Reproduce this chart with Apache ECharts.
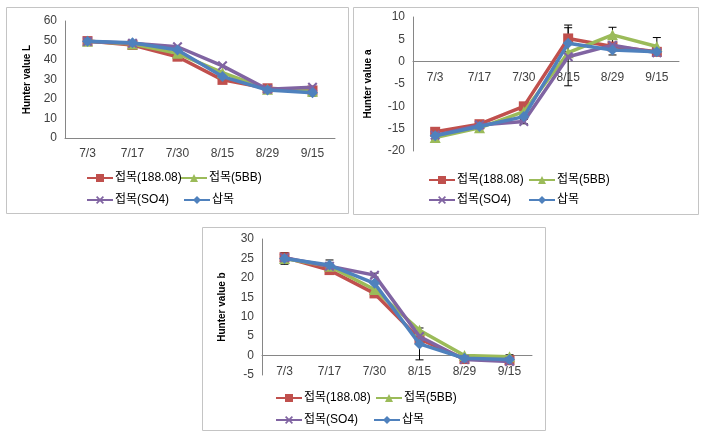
<!DOCTYPE html>
<html><head><meta charset="utf-8">
<script src="https://cdn.jsdelivr.net/npm/echarts@6/dist/echarts.min.js"></script>
<style>html,body{margin:0;padding:0;background:#fff}#c{width:706px;height:441px}</style>
</head><body><div id="c"></div>
<script>
const categories = ['7/3','7/17','7/30','8/15','8/29','9/15'];
const seriesNames = ['접목(188.08)','접목(5BB)','접목(SO4)','삽목'];

// Hunter value L
const L_188 = [49.7, 47.7, 41.7, 29.8, 25.5, 24.4];
const L_5BB = [49.6, 48.2, 43.4, 33.5, 25.0, 24.0];
const L_SO4 = [49.5, 48.6, 46.8, 37.0, 25.0, 26.0];
const L_cut = [49.6, 48.8, 45.1, 31.5, 24.6, 23.2];
const L_err_cut = [null, null, null, null, null, 1.7];

// Hunter value a
const a_188 = [-15.7, -14.0, -10.0, 5.2, 3.4, 2.2];
const a_5BB = [-17.0, -14.8, -11.2, 2.0, 6.0, 3.4];
const a_SO4 = [-16.5, -14.2, -13.4, 1.1, 3.7, 2.0];
const a_cut = [-16.6, -14.5, -12.3, 4.1, 2.6, 2.2];
const a_err_188 = [null, null, null, 3.0, null, null];
const a_err_5BB = [null, null, null, null, 1.7, 2.0];
const a_err_SO4 = [null, null, 0.5, 6.5, null, null];
const a_err_cut = [null, null, null, null, 1.1, null];

// Hunter value b
const b_188 = [25.3, 22.0, 16.0, 4.3, -0.9, -1.2];
const b_5BB = [25.0, 23.0, 17.0, 6.5, 0.0, -0.3];
const b_SO4 = [25.2, 23.0, 20.7, 4.9, -1.0, -1.5];
const b_cut = [25.0, 23.3, 18.6, 3.0, -0.7, -1.0];
const b_err_cut = [1.5, 1.3, null, 4.1, null, 1.2];
const b_err_SO4 = [null, null, 0.5, null, null, null];

const yTitles = ['Hunter value L', 'Hunter value a', 'Hunter value b'];
const yMin = [0, -20, -5], yMax = [60, 10, 30], yInt = [10, 5, 5];

const colors = ['#C0504D', '#9BBB59', '#8064A2', '#4F81BD'];
const xSym = 'path://M0,1.5 L1.5,0 L5,3.5 L8.5,0 L10,1.5 L6.5,5 L10,8.5 L8.5,10 L5,6.5 L1.5,10 L0,8.5 L3.5,5 Z';
const symbols = ['rect', 'triangle', xSym, 'diamond'];
const symSizes = [10, 11, 10, 11];

const panels = [
  {data: [L_188, L_5BB, L_SO4, L_cut], errs: [null, null, null, L_err_cut],
   grid: {left: 65, top: 21, width: 270, height: 117}, nameX: 32,
   box: [6, 7, 342, 206], leg: {x1: 86, x2: 180, x3: 86, x4: 183, y1: 180, y2: 202}},
  {data: [a_188, a_5BB, a_SO4, a_cut], errs: [a_err_188, a_err_5BB, a_err_SO4, a_err_cut],
   grid: {left: 413, top: 17, width: 266, height: 134}, nameX: 373,
   box: [353, 7, 345, 207], leg: {x1: 428, x2: 528, x3: 428, x4: 528, y1: 182, y2: 202}},
  {data: [b_188, b_5BB, b_SO4, b_cut], errs: [null, null, b_err_SO4, b_err_cut],
   grid: {left: 262, top: 239, width: 270, height: 136}, nameX: 227,
   box: [202, 227, 343, 203], leg: {x1: 275, x2: 375, x3: 275, x4: 373, y1: 400, y2: 422}}
];

const grids = [], xAxes = [], yAxes = [], series = [], legends = [], graphics = [];
const lblFont = 'Liberation Sans, Arial, sans-serif';
const legFont = 'Liberation Sans, Noto Sans CJK KR, sans-serif';

panels.forEach((p, gi) => {
  grids.push(Object.assign({containLabel: false}, p.grid));
  // x axis sits on the zero line of the value axis
  const zeroOffset = -p.grid.height * (0 - yMin[gi]) / (yMax[gi] - yMin[gi]);
  xAxes.push({
    type: 'category', gridIndex: gi, data: categories, position: 'bottom', offset: zeroOffset,
    axisLine: {onZero: false, lineStyle: {color: '#868686', width: 1}},
    axisTick: {show: false},
    axisLabel: {color: '#404040', fontSize: 12, fontFamily: lblFont, margin: 10},
    splitLine: {show: false}
  });
  yAxes.push({
    type: 'value', gridIndex: gi, min: yMin[gi], max: yMax[gi], interval: yInt[gi],
    axisLine: {show: true, onZero: false, lineStyle: {color: '#868686', width: 1}},
    axisTick: {show: false},
    splitLine: {show: false},
    axisLabel: {color: '#404040', fontSize: 12, fontFamily: lblFont, margin: 8},
    name: yTitles[gi], nameLocation: 'middle', nameRotate: 90,
    nameGap: p.grid.left - p.nameX,
    nameTextStyle: {color: '#000', fontSize: 10, fontWeight: 'bold', fontFamily: lblFont}
  });
  p.errs.forEach((errArr, si) => {
    if (!errArr) return;
    const vals = p.data[si];
    const d = [];
    errArr.forEach((e, i) => { if (e != null) d.push([i, vals[i], e]); });
    series.push({
      type: 'custom', xAxisIndex: gi, yAxisIndex: gi, z: 1, silent: true,
      data: d, encode: {x: 0, y: 1},
      renderItem: function (params, api) {
        const x = api.value(0), v = api.value(1), e = api.value(2);
        const top = api.coord([x, v + e]);
        const bot = api.coord([x, v - e]);
        const hw = 4;
        const st = {stroke: '#000', lineWidth: 1};
        return {type: 'group', children: [
          {type: 'line', shape: {x1: top[0], y1: top[1], x2: bot[0], y2: bot[1]}, style: st},
          {type: 'line', shape: {x1: top[0] - hw, y1: top[1], x2: top[0] + hw, y2: top[1]}, style: st},
          {type: 'line', shape: {x1: bot[0] - hw, y1: bot[1], x2: bot[0] + hw, y2: bot[1]}, style: st}
        ]};
      }
    });
  });
  p.data.forEach((vals, si) => {
    series.push({
      type: 'line', name: seriesNames[si], xAxisIndex: gi, yAxisIndex: gi, z: 2 + si,
      data: vals, symbol: symbols[si], symbolSize: symSizes[si], showAllSymbol: true,
      color: colors[si],
      lineStyle: {width: 3.5, color: colors[si]},
      itemStyle: {color: colors[si], borderWidth: 0},
      emphasis: {disabled: true}, animation: false
    });
  });
  const L = p.leg;
  const pos = [[L.x1, L.y1], [L.x2, L.y1], [L.x3, L.y2], [L.x4, L.y2]];
  seriesNames.forEach((nm, si) => {
    legends.push({
      data: [nm], left: pos[si][0], top: pos[si][1] - 8, padding: 0,
      itemWidth: 26, itemHeight: 10, itemGap: 0,
      selectedMode: false,
      textStyle: {fontSize: 12, color: '#000', fontFamily: legFont, padding: [0, 0, 0, -3]}
    });
  });
  graphics.push({
    type: 'rect', shape: {x: p.box[0] + 0.5, y: p.box[1] + 0.5, width: p.box[2], height: p.box[3]},
    style: {fill: 'none', stroke: '#c4c4c4', lineWidth: 1}, z: 0
  });
});

const chart = echarts.init(document.getElementById('c'), null, {renderer: 'canvas'});
chart.setOption({
  animation: false,
  backgroundColor: '#fff',
  grid: grids, xAxis: xAxes, yAxis: yAxes, series: series, legend: legends,
  graphic: graphics
});
</script>
</body></html>
